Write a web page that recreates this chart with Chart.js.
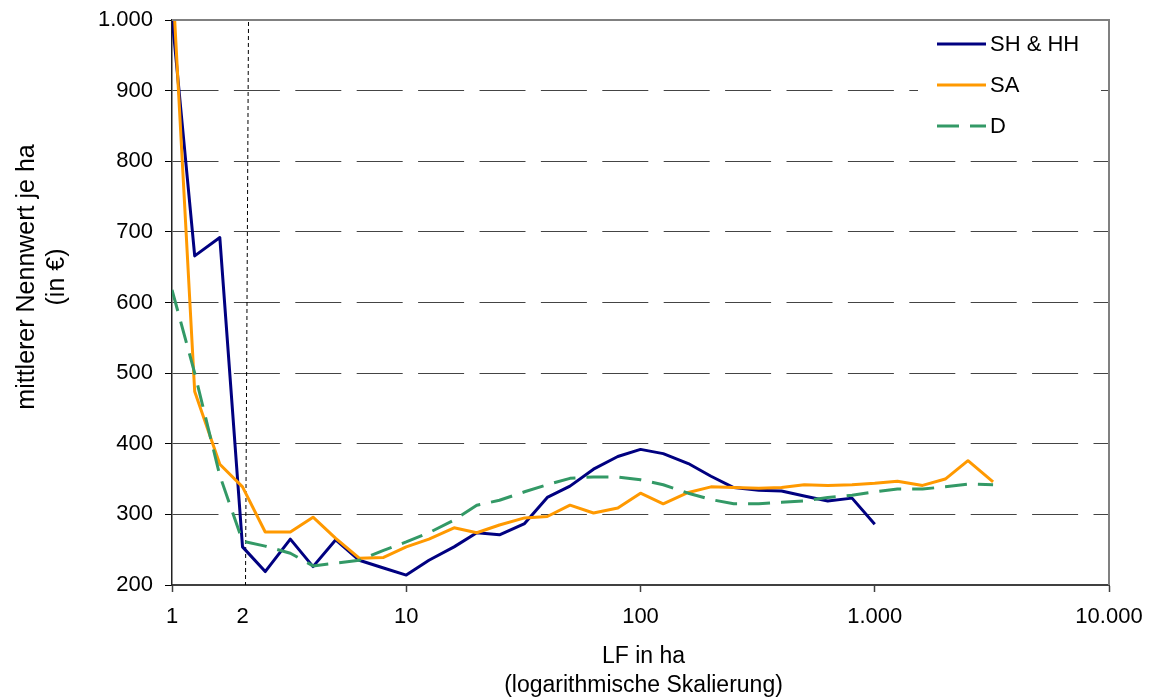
<!DOCTYPE html>
<html>
<head>
<meta charset="utf-8">
<script src="https://cdn.jsdelivr.net/npm/chart.js@4.4.1/dist/chart.umd.min.js"></script>
<style>
  html, body { margin: 0; padding: 0; background: #fff; }
  #wrap { width: 1153px; height: 698px; position: relative; }
</style>
</head>
<body>
<div id="wrap"><canvas id="myChart"></canvas></div>
<script>
// LF classes (ha), log spaced
const lfValues = [1, 1.25, 1.6, 2, 2.5, 3.2, 4, 5, 6.3, 8,
    10, 12.5, 16, 20, 25, 32, 40, 50, 63, 80,
    100, 125, 160, 200, 250, 320, 400, 500, 630, 800,
    1000, 1250, 1600, 2000, 2500, 3200];

// mittlerer Nennwert je ha (in €)
const shHH = [1005, 666, 692, 254, 219, 265, 226, 264, 235, 224,
    214, 235, 254, 274, 271, 287, 324, 340, 364, 382,
    392, 386, 372, 354, 338, 334, 333, 326, 319, 323,
    286];
const sa = [1070, 474, 371, 339, 275, 275, 296, 266, 238, 239,
    254, 265, 281, 274, 285, 295, 297, 313, 302, 309,
    330, 315, 331, 339, 338, 337, 338, 342, 341, 342,
    344, 347, 341, 350, 376, 346];
const d = [618, 500, 355, 262, 255, 245, 227, 231, 235, 249,
    261, 274, 292, 313, 320, 332, 342, 351, 353, 353,
    349, 342, 330, 321, 315, 315, 317, 319, 324, 327,
    332, 336, 336, 339, 343, 342];

const xTicks = [1, 2, 10, 100, 1000, 10000];
const yTicks = [200, 300, 400, 500, 600, 700, 800, 900, 1000];
const markerLF = 2;

const FONT = '"Liberation Sans", Arial, sans-serif';

function fmt(v) {
    return String(v).replace(/\B(?=(\d{3})+(?!\d))/g, '.');
}
function toPoints(vals) {
    return vals.map((v, i) => ({ x: lfValues[i], y: v }));
}

// extras: border, marker line at 2 ha, legend, axis titles
const extras = {
    id: 'extras',
    beforeDatasetsDraw(chart) {
        const { ctx, chartArea: a, scales } = chart;
        const x = Math.round(scales.x.getPixelForValue(markerLF)) + 3;
        ctx.save();
        ctx.strokeStyle = '#000';
        ctx.lineWidth = 1;
        ctx.setLineDash([4, 3]);
        ctx.beginPath();
        ctx.moveTo(x + 2.5, a.top + 2);
        ctx.lineTo(x - 0.5, a.bottom);
        ctx.stroke();
        ctx.restore();
    },
    afterDraw(chart) {
        const { ctx, chartArea: a } = chart;
        ctx.save();
        // top + right frame
        ctx.strokeStyle = '#808080';
        ctx.lineWidth = 2;
        ctx.beginPath();
        ctx.moveTo(a.left, a.top);
        ctx.lineTo(a.right, a.top);
        ctx.lineTo(a.right, a.bottom);
        ctx.stroke();

        // legend
        const lx = a.right - 191;
        ctx.fillStyle = '#fff';
        ctx.fillRect(lx, a.top + 2, 183, 128);
        chart.data.datasets.forEach((ds, i) => {
            const y = a.top + 24 + i * 41;
            ctx.strokeStyle = ds.borderColor;
            ctx.lineWidth = 3;
            ctx.setLineDash(ds.borderDash || []);
            ctx.beginPath();
            ctx.moveTo(a.right - 172, y);
            ctx.lineTo(a.right - 123, y);
            ctx.stroke();
            ctx.setLineDash([]);
            ctx.fillStyle = '#000';
            ctx.font = '22px ' + FONT;
            ctx.textAlign = 'left';
            ctx.textBaseline = 'middle';
            ctx.fillText(ds.label, a.right - 119, y + 1);
        });

        // axis titles
        ctx.fillStyle = '#000';
        ctx.font = '23px ' + FONT;
        ctx.textAlign = 'center';
        ctx.textBaseline = 'middle';
        const cx = (a.left + a.right) / 2 + 3;
        ctx.fillText('LF in ha', cx, 657);
        ctx.fillText('(logarithmische Skalierung)', cx, 686);

        ctx.font = '25px ' + FONT;
        ctx.save();
        ctx.translate(27, 277);
        ctx.rotate(-Math.PI / 2);
        ctx.fillText('mittlerer Nennwert je ha', 0, 0);
        ctx.restore();
        ctx.save();
        ctx.translate(57, 277);
        ctx.rotate(-Math.PI / 2);
        ctx.fillText('(in €)', 0, 0);
        ctx.restore();
        ctx.restore();
    }
};

new Chart(document.getElementById('myChart'), {
    type: 'line',
    data: {
        datasets: [
            {
                label: 'SH & HH',
                data: toPoints(shHH),
                borderColor: '#000080',
                borderWidth: 3,
                order: 3,
                clip: 0
            },
            {
                label: 'SA',
                data: toPoints(sa),
                borderColor: '#FF9900',
                borderWidth: 3,
                order: 2,
                clip: 0
            },
            {
                label: 'D',
                data: toPoints(d),
                borderColor: '#339966',
                borderWidth: 3,
                borderDash: [22, 11],
                order: 1,
                clip: 0
            }
        ]
    },
    options: {
        responsive: true,
        maintainAspectRatio: false,
        animation: false,
        events: [],
        layout: { padding: { left: 0, top: 20, right: 44, bottom: 0 } },
        elements: {
            point: { radius: 0 },
            line: { tension: 0, borderCapStyle: 'butt', borderJoinStyle: 'round' }
        },
        plugins: {
            legend: { display: false },
            tooltip: { enabled: false }
        },
        scales: {
            x: {
                type: 'logarithmic',
                min: 1,
                max: 10000,
                afterFit: s => { s.height = 113; s.paddingLeft = 0; s.paddingRight = 0; },
                afterBuildTicks: s => { s.ticks = xTicks.map(v => ({ value: v })); },
                grid: {
                    drawOnChartArea: false,
                    tickLength: 7,
                    tickColor: c => (c.tick && c.tick.value === markerLF) ? 'rgba(0,0,0,0)' : '#404040',
                    tickWidth: 1.5
                },
                border: { color: '#404040', width: 2 },
                ticks: {
                    autoSkip: false,
                    maxRotation: 0,
                    padding: 12,
                    color: '#000',
                    font: { family: FONT, size: 22 },
                    callback: v => fmt(v)
                }
            },
            y: {
                min: 200,
                max: 1000,
                afterFit: s => { s.width = 172; s.paddingTop = 0; s.paddingBottom = 0; },
                afterBuildTicks: s => { s.ticks = yTicks.map(v => ({ value: v })); },
                grid: {
                    color: '#444',
                    lineWidth: 1,
                    tickLength: 7,
                    tickColor: '#000',
                    tickBorderDash: []
                },
                border: { color: '#222', width: 1.5, dash: [46, 15.4] },
                ticks: {
                    padding: 12,
                    color: '#000',
                    font: { family: FONT, size: 22 },
                    callback: v => fmt(v)
                }
            }
        }
    },
    plugins: [extras]
});
</script>
</body>
</html>
